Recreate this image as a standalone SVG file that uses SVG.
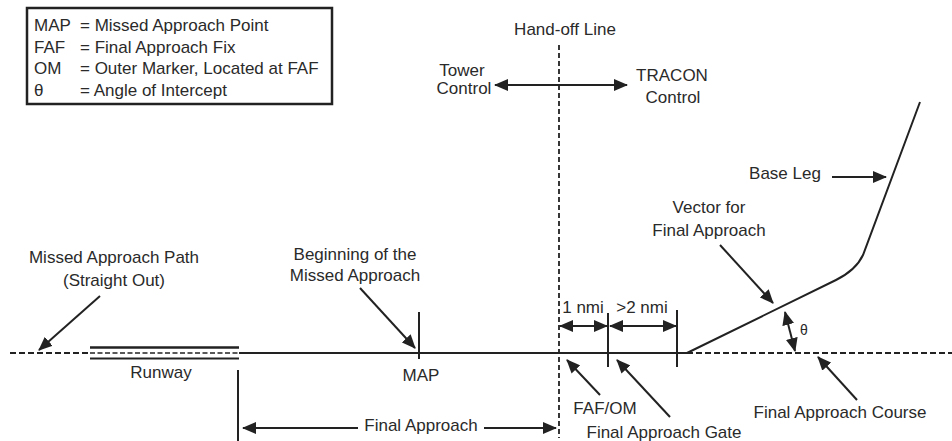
<svg xmlns="http://www.w3.org/2000/svg" width="952" height="441" viewBox="0 0 952 441">
<style>
  text { font-family: "Liberation Sans", Arial, sans-serif; font-size: 17px; fill: #2a2a2a; }
  .c { text-anchor: middle; }
  .ln { stroke: #222; stroke-width: 2; fill: none; }
  .dash { stroke: #222; stroke-width: 2; fill: none; stroke-dasharray: 6 3; }
  .arr { stroke: #222; stroke-width: 2; fill: none; marker-end: url(#ah); }
  .darr { stroke: #222; stroke-width: 2; fill: none; marker-start: url(#ahs); marker-end: url(#ah); }
</style>
<defs>
  <marker id="ah" markerUnits="userSpaceOnUse" markerWidth="14" markerHeight="12" viewBox="0 0 14 12" refX="13" refY="6" orient="auto">
    <path d="M0,0 L14,6 L0,12 Z" fill="#222"/>
  </marker>
  <marker id="ahs" markerUnits="userSpaceOnUse" markerWidth="14" markerHeight="12" viewBox="0 0 14 12" refX="1" refY="6" orient="auto">
    <path d="M14,0 L0,6 L14,12 Z" fill="#222"/>
  </marker>
</defs>
<rect width="952" height="441" fill="#fff"/>

<g id="legend">
  <rect x="27" y="8" width="305" height="96" fill="#fff" stroke="#222" stroke-width="2.5"/>
  <text x="34" y="31">MAP</text><text x="80" y="31">= Missed Approach Point</text>
  <text x="34" y="53">FAF</text><text x="80" y="53">= Final Approach Fix</text>
  <text x="34" y="74">OM</text><text x="80" y="74">= Outer Marker, Located at FAF</text>
  <text x="34" y="96">θ</text><text x="80" y="96">= Angle of Intercept</text>
</g>

<g id="handoff-line">
  <line x1="559" y1="45" x2="559" y2="438" stroke="#222" stroke-width="1.8" stroke-dasharray="5 3"/>
  <text class="c" x="565" y="35">Hand-off Line</text>
</g>

<g id="tower-control">
  <text class="c" x="462" y="76">Tower</text>
  <text class="c" x="464" y="94">Control</text>
</g>
<g id="tracon-control">
  <text class="c" x="672" y="81">TRACON</text>
  <text class="c" x="673" y="103">Control</text>
</g>

<g id="runway">
  <line x1="90" y1="347.5" x2="239" y2="347.5" stroke="#222" stroke-width="2.5"/>
  <line x1="90" y1="353" x2="239" y2="353" stroke="#222" stroke-width="1.5" stroke-dasharray="5 2.5"/>
  <line x1="90" y1="358.5" x2="239" y2="358.5" stroke="#222" stroke-width="2"/>
  <text class="c" x="161" y="378">Runway</text>
</g>

<g id="missed-approach-path">
  <text class="c" x="114" y="263">Missed Approach Path</text>
  <text class="c" x="114" y="286">(Straight Out)</text>
</g>

<g id="map">
  <line class="ln" x1="419" y1="312" x2="419" y2="359"/>
  <text class="c" x="421" y="381">MAP</text>
</g>

<g id="beginning-missed-approach">
  <text class="c" x="355" y="260">Beginning of the</text>
  <text class="c" x="355" y="281">Missed Approach</text>
</g>

<g id="faf-om">
  <text class="c" x="605" y="414">FAF/OM</text>
</g>

<g id="final-approach-gate">
  <line class="ln" x1="608" y1="313" x2="608" y2="367"/>
  <text class="c" x="664" y="438">Final Approach Gate</text>
</g>

<g id="gate-end">
  <line class="ln" x1="677" y1="310" x2="677" y2="367"/>
</g>

<g id="runway-end">
  <line class="ln" x1="238" y1="370" x2="238" y2="441"/>
</g>

<g id="final-approach-label">
  <text class="c" x="421" y="431">Final Approach</text>
</g>

<g id="final-approach-course">
  <text class="c" x="840" y="418">Final Approach Course</text>
</g>

<g id="vector-label">
  <text class="c" x="709" y="213">Vector for</text>
  <text class="c" x="709" y="236">Final Approach</text>
</g>

<g id="base-leg">
  <text class="c" x="785" y="179">Base Leg</text>
</g>

<g id="distance-labels">
  <text class="c" x="583" y="313">1 nmi</text>
  <text class="c" x="642" y="313">&gt;2 nmi</text>
  <text class="c" x="804" y="335" style="font-size:14px">θ</text>
</g>

<g id="connectors">
  <!-- course line -->
  <line class="dash" x1="10" y1="353" x2="90" y2="353"/>
  <line class="ln" x1="239" y1="353" x2="687" y2="353"/>
  <line class="dash" x1="687" y1="353" x2="952" y2="353"/>
  <!-- vector + base leg -->
  <path class="ln" d="M687,353 L836,280 Q856,270 863,255 L920,102"/>
  <!-- tower / tracon -->
  <line class="darr" x1="495" y1="85" x2="627" y2="85"/>
  <!-- distances -->
  <line class="darr" x1="560" y1="326" x2="607" y2="326"/>
  <line class="darr" x1="610" y1="326" x2="676" y2="326"/>
  <!-- theta -->
  <line class="darr" x1="785" y1="312" x2="795" y2="351"/>
  <!-- final approach -->
  <line class="ln" x1="243" y1="428" x2="358" y2="428" marker-start="url(#ahs)"/>
  <line class="arr" x1="484" y1="428" x2="556" y2="428"/>
  <!-- pointer arrows -->
  <line class="arr" x1="100" y1="296" x2="39" y2="350"/>
  <line class="arr" x1="360" y1="288" x2="415" y2="348"/>
  <line class="arr" x1="600" y1="395" x2="567" y2="360"/>
  <line class="arr" x1="670" y1="417" x2="617" y2="360"/>
  <line class="arr" x1="857" y1="400" x2="818" y2="357"/>
  <line class="arr" x1="720" y1="245" x2="773" y2="303"/>
  <line class="arr" x1="832" y1="177" x2="886" y2="177"/>
</g>
</svg>
